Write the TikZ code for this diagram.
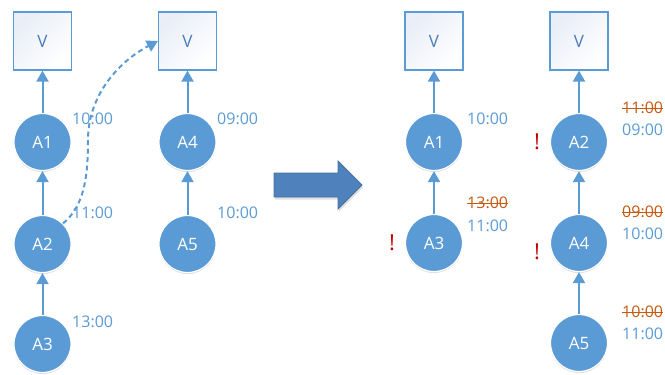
\documentclass[tikz,border=0pt]{standalone}
\usepackage{fontspec}
\setmainfont{Open Sans}
\usetikzlibrary{arrows.meta,shadows}
\definecolor{nodeblue}{HTML}{5B9BD5}
\definecolor{boxtext}{HTML}{4A7DBA}
\definecolor{boxtint}{HTML}{E9EEF7}
\definecolor{bigarrow}{HTML}{4F81BD}
\definecolor{bigarrowedge}{HTML}{41719C}
\definecolor{oldtime}{HTML}{C55A11}
\definecolor{warnred}{HTML}{C00000}
\tikzset{
  vbox/.style={draw=nodeblue, line width=1.2bp, minimum width=58bp, minimum height=58bp,
    shading=axis, top color=boxtint, bottom color=white, shading angle=45,
    text=boxtext, font=\fontsize{17bp}{20bp}\selectfont},
  act/.style={circle, fill=nodeblue, draw=white, line width=1.2bp, minimum size=57bp, inner sep=0pt,
    text=white, font=\fontsize{17bp}{20bp}\selectfont,
    drop shadow={shadow xshift=0bp, shadow yshift=-1.5bp, opacity=0.22, fill=black!60}},
  conn/.style={draw=nodeblue, line width=2bp, -{Triangle[width=12bp,length=11bp]}},
  dconn/.style={conn, dash pattern=on 5bp off 3.5bp},
  time/.style={anchor=west, inner sep=0pt, text=nodeblue, font=\fontsize{16bp}{19bp}\selectfont},
  oldt/.style={time, text=oldtime},
  warn/.style={inner sep=0pt, text=warnred, font=\fontsize{22bp}{26bp}\selectfont},
}
\newcommand{\strikeout}[1]{\draw[oldtime, line width=1bp] ([yshift=5.6bp]#1.base west) -- ([yshift=5.6bp]#1.base east);}
\begin{document}
\begin{tikzpicture}[x=1bp, y=-1bp]
\useasboundingbox (0,0) rectangle (665,374);

% ---- before: two chains ----
\node[vbox] (Va) at (42.5,41) {V};
\node[vbox] (Vb) at (187.5,41) {V};
\node[act] (a1) at (42.5,142) {A1};
\node[act] (a2) at (42.5,244) {A2};
\node[act] (a3) at (42.5,344) {A3};
\node[act] (a4) at (187.5,142) {A4};
\node[act] (a5) at (187.5,244) {A5};
\draw[conn] (a1) -- (Va);
\draw[conn] (a2) -- (a1);
\draw[conn] (a3) -- (a2);
\draw[conn] (a4) -- (Vb);
\draw[conn] (a5) -- (a4);
\draw[dconn] (a2.45) .. controls (84,206) and (88,178) .. (88,140)
  .. controls (88,96) and (118,62) .. (Vb.west);
\node[time] (t1) at (72,119) {10:00};
\node[time] (t2) at (72,213) {11:00};
\node[time] (t3) at (72,322) {13:00};
\node[time] (t4) at (217,119) {09:00};
\node[time] (t5) at (217,213) {10:00};

% ---- transition arrow ----
\fill[black, opacity=0.12] (275,175.5) -- (339,175.5) -- (339,163.5) -- (363,187.5) -- (339,211.5) -- (339,199.5) -- (275,199.5) -- cycle;
\draw[bigarrowedge, fill=bigarrow, line width=0.8bp] (274,173) -- (338,173) -- (338,161) -- (362,185) -- (338,209) -- (338,197) -- (274,197) -- cycle;

% ---- after: merged chains ----
\node[vbox] (Vc) at (434,41) {V};
\node[vbox] (Vd) at (579,41) {V};
\node[act] (b1) at (434,142) {A1};
\node[act] (b3) at (434,243) {A3};
\node[act] (b2) at (579,142) {A2};
\node[act] (b4) at (579,243) {A4};
\node[act] (b5) at (579,343) {A5};
\draw[conn] (b1) -- (Vc);
\draw[conn] (b3) -- (b1);
\draw[conn] (b2) -- (Vd);
\draw[conn] (b4) -- (b2);
\draw[conn] (b5) -- (b4);
\node[time] (u1) at (467,119) {10:00};
\node[oldt] (o3) at (467,203) {13:00}; \strikeout{o3}
\node[time] (u3) at (467,226) {11:00};
\node[oldt] (o2) at (622,108) {11:00}; \strikeout{o2}
\node[time] (u2) at (622,130) {09:00};
\node[oldt] (o4) at (622,212) {09:00}; \strikeout{o4}
\node[time] (u4) at (622,234) {10:00};
\node[oldt] (o5) at (622,312) {10:00}; \strikeout{o5}
\node[time] (u5) at (622,334) {11:00};
\node[warn] (w3) at (392,243) {!};
\node[warn] (w2) at (537,142) {!};
\node[warn] (w4) at (537,252) {!};
\end{tikzpicture}
\end{document}
